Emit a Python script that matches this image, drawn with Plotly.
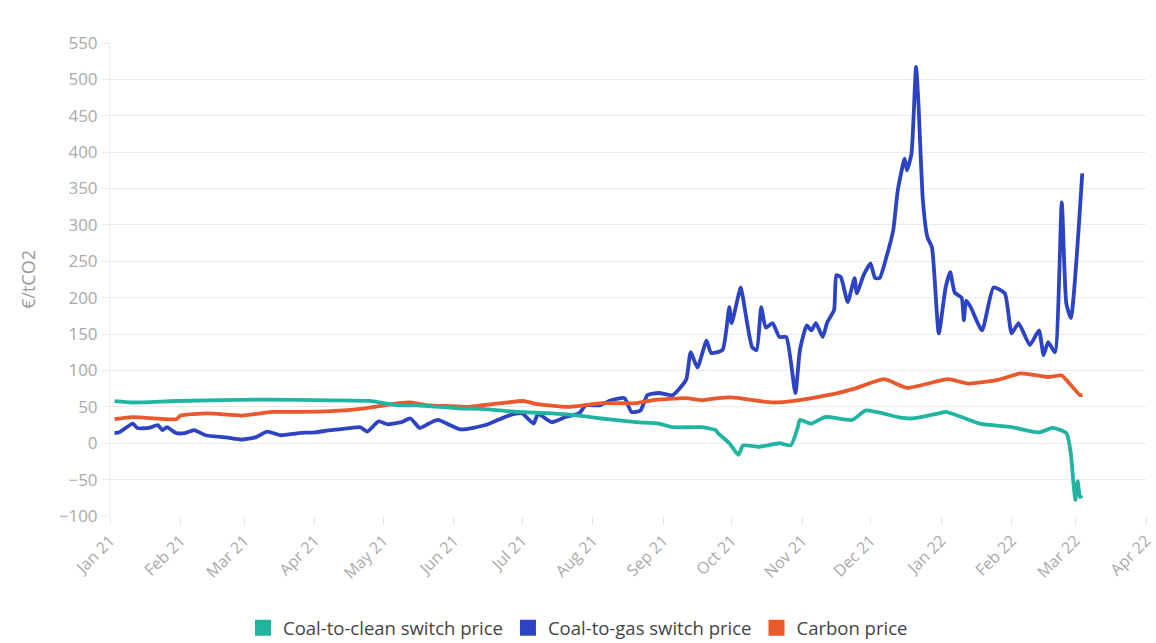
import plotly.graph_objects as go

# Coal-to-gas switch price (€/tCO2)
gas_dates = ["2021-01-03", "2021-01-05", "2021-01-11", "2021-01-13", "2021-01-18", "2021-01-22", "2021-01-24",
             "2021-01-26", "2021-01-30", "2021-02-03", "2021-02-07", "2021-02-12", "2021-02-21", "2021-02-28",
             "2021-03-06", "2021-03-11", "2021-03-17", "2021-03-25", "2021-04-01", "2021-04-08", "2021-04-17",
             "2021-04-21", "2021-04-24", "2021-04-29", "2021-05-03", "2021-05-09", "2021-05-13", "2021-05-17",
             "2021-05-21", "2021-05-25", "2021-06-04", "2021-06-15", "2021-06-25", "2021-07-01", "2021-07-06",
             "2021-07-08", "2021-07-14", "2021-07-20", "2021-07-26", "2021-07-29", "2021-08-04", "2021-08-09",
             "2021-08-15", "2021-08-18", "2021-08-22", "2021-08-25", "2021-08-30", "2021-09-05", "2021-09-11",
             "2021-09-13", "2021-09-16", "2021-09-20", "2021-09-22", "2021-09-27", "2021-09-30", "2021-10-01",
             "2021-10-05", "2021-10-06", "2021-10-10", "2021-10-12", "2021-10-14", "2021-10-16", "2021-10-19",
             "2021-10-22", "2021-10-25", "2021-10-29", "2021-10-31", "2021-11-03", "2021-11-05", "2021-11-07",
             "2021-11-10", "2021-11-12", "2021-11-15", "2021-11-16", "2021-11-18", "2021-11-21", "2021-11-24",
             "2021-11-25", "2021-11-28", "2021-12-01", "2021-12-03", "2021-12-05", "2021-12-08", "2021-12-11",
             "2021-12-13", "2021-12-16", "2021-12-17", "2021-12-19", "2021-12-21", "2021-12-22", "2021-12-24",
             "2021-12-26", "2021-12-28", "2021-12-31", "2022-01-03", "2022-01-05", "2022-01-07", "2022-01-10",
             "2022-01-11", "2022-01-12", "2022-01-14", "2022-01-19", "2022-01-24", "2022-01-29", "2022-02-01",
             "2022-02-04", "2022-02-09", "2022-02-13", "2022-02-15", "2022-02-17", "2022-02-20", "2022-02-23",
             "2022-02-25", "2022-02-27", "2022-03-04"]
gas_values = [14, 15, 27, 21, 21, 25, 18,
              22, 14, 14, 18, 11, 8, 5,
              8, 16, 11, 14, 15, 18, 21,
              22, 16, 30, 26, 29, 34, 21,
              27, 32, 19, 25, 38, 41, 27,
              40, 29, 36, 41, 52, 52, 59,
              62, 43, 45, 66, 69, 66, 87,
              125, 104, 141, 124, 128, 187, 165,
              214, 200, 132, 128, 187, 159, 165,
              146, 146, 69, 128, 162, 155, 165,
              146, 166, 183, 231, 228, 194, 227,
              206, 231, 247, 227, 227, 256, 293,
              348, 391, 375, 398, 517, 471, 334,
              283, 269, 151, 214, 235, 207, 200,
              169, 196, 187, 155, 214, 206, 151,
              165, 135, 155, 121, 139, 125, 331,
              192, 172, 371]

# Carbon price (€/tCO2)
carbon_dates = ["2021-01-03", "2021-01-11", "2021-01-30", "2021-02-01", "2021-02-13", "2021-02-28", "2021-03-13",
                "2021-03-25", "2021-04-08", "2021-04-23", "2021-05-08", "2021-05-13", "2021-05-21", "2021-05-31",
                "2021-06-07", "2021-06-22", "2021-07-02", "2021-07-07", "2021-07-21", "2021-08-05", "2021-08-20",
                "2021-08-27", "2021-09-11", "2021-09-18", "2021-09-25", "2021-10-01", "2021-10-19", "2021-10-30",
                "2021-11-14", "2021-11-24", "2021-12-07", "2021-12-17", "2022-01-04", "2022-01-13", "2022-01-26",
                "2022-02-05", "2022-02-17", "2022-02-23", "2022-02-27", "2022-03-03", "2022-03-04"]
carbon_values = [33, 36, 33, 38, 41, 38, 43,
                 43, 44, 48, 55, 56, 52, 51,
                 50, 55, 58, 54, 50, 55, 55,
                 59, 62, 59, 62, 63, 56, 59,
                 67, 75, 88, 76, 88, 82, 87,
                 96, 91, 93, 80, 66, 67]

# Coal-to-clean switch price (€/tCO2)
clean_dates = ["2021-01-03", "2021-01-11", "2021-01-30", "2021-03-10", "2021-04-08", "2021-04-26", "2021-05-03",
               "2021-05-08", "2021-05-16", "2021-06-03", "2021-06-15", "2021-06-29", "2021-07-14", "2021-07-26",
               "2021-08-05", "2021-08-20", "2021-08-30", "2021-09-05", "2021-09-18", "2021-09-24", "2021-09-25",
               "2021-09-30", "2021-10-04", "2021-10-06", "2021-10-13", "2021-10-22", "2021-10-27", "2021-10-30",
               "2021-10-31", "2021-11-05", "2021-11-11", "2021-11-23", "2021-11-29", "2021-12-13", "2021-12-19",
               "2021-12-31", "2022-01-03", "2022-01-10", "2022-01-18", "2022-02-01", "2022-02-13", "2022-02-19",
               "2022-02-25", "2022-02-27", "2022-02-28", "2022-03-01", "2022-03-02", "2022-03-03", "2022-03-04"]
clean_values = [58, 56, 58, 60, 59, 58, 54,
                52, 52, 48, 47, 43, 41, 38,
                34, 29, 27, 22, 22, 18, 14,
                0, -16, -3, -5, 0, -3, 21,
                32, 27, 36, 32, 45, 36, 34,
                41, 43, 36, 27, 22, 15, 21,
                14, -14, -50, -78, -52, -74, -72]

series_names = ["Coal-to-clean switch price", "Coal-to-gas switch price", "Carbon price"]
colors = ["#1fb5a1", "#2c44c4", "#e9592b"]

y_ticks = list(range(-100, 551, 50))

fig = go.Figure()
for name, xs, ys, col in [
    (series_names[1], gas_dates, gas_values, colors[1]),
    (series_names[2], carbon_dates, carbon_values, colors[2]),
    (series_names[0], clean_dates, clean_values, colors[0]),
]:
    fig.add_trace(go.Scatter(x=xs, y=ys, mode="lines", name=name, showlegend=False,
                             line=dict(color=col, width=3.8, shape="spline", smoothing=0.5),
                             legendgroup=name))

for name, col in zip(series_names, colors):
    fig.add_trace(go.Scatter(x=[None], y=[None], mode="markers", name=name, legendgroup=name,
                             marker=dict(symbol="square", size=16, color=col)))

fig.update_layout(
    width=1156, height=643,
    paper_bgcolor="white", plot_bgcolor="white",
    margin=dict(l=110, r=10, t=43, b=127),
    font=dict(family="Open Sans, sans-serif", color="#999999"),
    showlegend=True,
    legend=dict(orientation="h", xref="container", yref="container",
                x=0.5, xanchor="center", y=0.023, yanchor="middle",
                font=dict(size=18.5, color="#444444"), itemwidth=30, tracegroupgap=0,
                traceorder="normal"),
)
fig.update_xaxes(
    type="date", range=["2021-01-01", "2022-04-01"], automargin=False,
    dtick="M1", tick0="2021-01-01", tickformat="%b %y", tickangle=-45,
    tickfont=dict(size=16, color="#aaaaaa"),
    showgrid=False, zeroline=False, showline=False,
    ticks="outside", ticklen=8, tickcolor="#e6e6e6",
)
fig.update_yaxes(
    range=[-100, 550], tickvals=y_ticks, automargin=False,
    tickfont=dict(size=17, color="#aaaaaa"),
    showgrid=True, gridcolor="#ebebeb", gridwidth=1,
    zeroline=False, showline=True, linecolor="#ebebeb",
    ticks="outside", ticklen=8, tickcolor="#ebebeb",
    title=dict(text="€/tCO2", font=dict(size=18, color="#999999"), standoff=18),
)

fig.write_html("out.html", config={"displayModeBar": False},
               post_script="document.body.style.margin='0';document.body.style.overflow='hidden';")
